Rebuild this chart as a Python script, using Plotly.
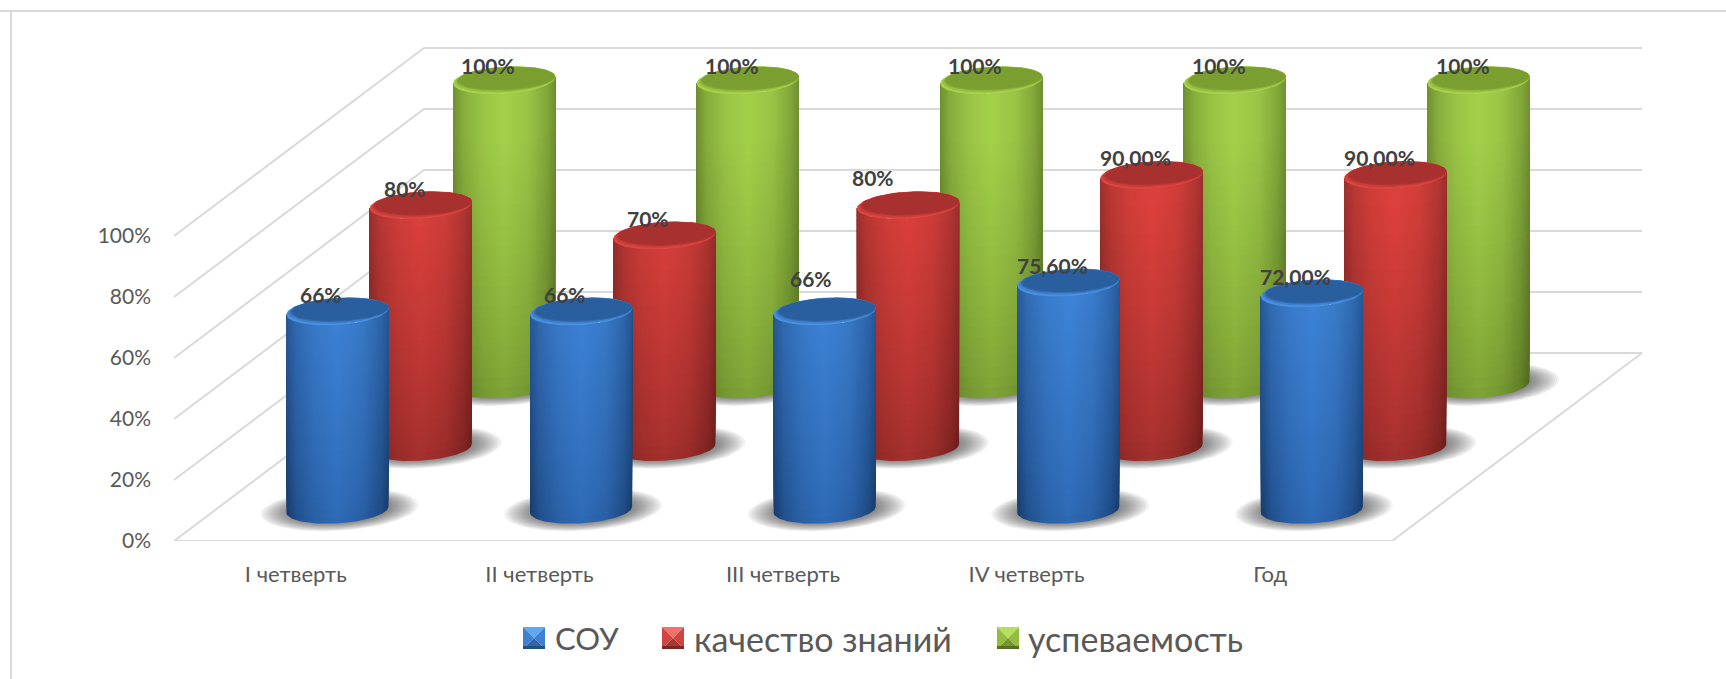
import numpy as np
import plotly.graph_objects as go

# ---------- data ----------
categories = ["I четверть", "II четверть", "III четверть", "IV четверть", "Год"]
series_names = ["СОУ", "качество знаний", "успеваемость"]
sou = [66, 66, 66, 75.6, 72]
quality = [80, 70, 80, 90, 90]
progress = [100, 100, 100, 100, 100]
sou_labels = ["66%", "66%", "66%", "75,60%", "72,00%"]
quality_labels = ["80%", "70%", "80%", "90,00%", "90,00%"]
progress_labels = ["100%", "100%", "100%", "100%", "100%"]
y_ticks = [0, 20, 40, 60, 80, 100]
y_tick_text = ["0%", "20%", "40%", "60%", "80%", "100%"]

# ---------- layout constants ----------
W, H = 1726, 679
PL, PB = 158, 138
PX_X, PX_Y = 243.6, 3.05        # px per category, px per percent
X0_PX, Y0_PX = 174, 541
DX, DY = 250 / PX_X, 188 / PX_Y # depth vector in axis units
SHEAR = 0.6
R_X, R_D = 49.8 / PX_X, 0.0745  # cylinder radii
T0 = np.arctan2(R_D * DX * SHEAR * PX_X, R_X * PX_X)
FONT = "Lato, 'Noto Sans', sans-serif"
GRID = "#D9D9D9"
TEXT = "#595959"
LABEL = "#404040"

PAL = [
    dict(tb="#3F86DA", te="#2A5D9E", bb="#2E69B5", be="#173B6B", rim="#4A90E2", cap="#2A5F9F", sw=("#5FA8F2", "#3F80CF", "#2F66A8", "#24507F")),
    dict(tb="#DD403C", te="#9C302D", bb="#A3302D", be="#6C1D1B", rim="#DC4640", cap="#A8302E", sw=("#F2726C", "#CF4540", "#A83532", "#7C2623")),
    dict(tb="#A3D04A", te="#6F9030", bb="#7FA336", be="#4E691F", rim="#A6D24C", cap="#7B9E30", sw=("#B7DE5E", "#94BC3E", "#75962F", "#556F21")),
]


def hex2rgb(c):
    return np.array([int(c[i:i + 2], 16) for i in (1, 3, 5)], float)


def mix(a, b, w):
    r = (hex2rgb(a) * (1 - w) + hex2rgb(b) * w).round().astype(int)
    return "#%02X%02X%02X" % tuple(r)


def project(x, v, d):
    return x + d * DX, v + d * DY


def ellipse(xc, v, d, k=1.0, ky=None, t=None):
    ky = k if ky is None else ky
    t = np.linspace(0, 2 * np.pi, 73) if t is None else t
    bx, by = project(xc, v, d)
    return (bx + k * R_X * np.cos(t) + ky * R_D * np.sin(t) * DX * SHEAR,
            by + ky * R_D * np.sin(t) * DY)


def bar_height(v, d):
    # the source's slight foreshortening of nearer cylinders
    return v * (1 - 0.018 * (1 - d))


fig = go.Figure()


def poly(x, y, **kw):
    fig.add_trace(go.Scatter(x=list(x), y=list(y), mode="lines", fill="toself", line=dict(width=0),
                             hoverinfo="skip", showlegend=False, cliponaxis=False, **kw))


# grid on the walls and floor
gx, gy = [], []
for v in y_ticks:
    xs, ys = project(np.array([0, 0, 5]), v, np.array([0, 1, 1]))
    gx += list(xs) + [None]
    gy += list(ys) + [None]
xs, ys = project(np.array([0, 5, 5]), 0, np.array([0, 0, 1]))
gx += list(xs)
gy += list(ys)
fig.add_trace(go.Scatter(x=gx, y=gy, mode="lines", line=dict(color=GRID, width=2),
                         hoverinfo="skip", showlegend=False, cliponaxis=False))

series = [sou, quality, progress]
depths = [1 / 6, 1 / 2, 5 / 6]

# soft contact shadows
N_SH = 14
for i in range(N_SH):
    k = 1.55 - (1.55 - 1.0) * i / (N_SH - 1)
    sx, sy = [], []
    for s in range(3):
        for c in range(5):
            ex, ey = ellipse(c + 0.5 + 2 / PX_X, 0, depths[s], k, k)
            sx += list(ex) + [None]
            sy += list(ey) + [None]
    poly(sx, sy, fillcolor="rgba(30,30,30,0.052)")

# cylinders, back to front
N_B = 30
front = np.linspace(T0, T0 - np.pi, 50)
for s in (2, 1, 0):
    p = PAL[s]
    d = depths[s]
    for c in range(5):
        xc = c + 0.5
        v = bar_height(series[s][c], d)
        for j in range(N_B):
            z = v * j / N_B
            w = min(1.0, (z / 100) ** 0.8 * 1.15)
            bright = mix(p["bb"], p["tb"], w)
            edge = mix(p["be"], p["te"], w)
            scale = [[0, edge],
                     [0.10, mix(edge, bright, 0.45)],
                     [0.28, mix(edge, bright, 0.80)],
                     [0.50, bright],
                     [0.74, mix(edge, bright, 0.80)],
                     [0.92, mix(edge, bright, 0.35)],
                     [1, edge]]
            ax, ay = ellipse(xc, z, d, t=front)
            bx, by = ellipse(xc, v, d, t=front[::-1])
            poly(np.r_[ax, bx], np.r_[ay, by], name=series_names[s],
                 fillgradient=dict(type="horizontal", colorscale=scale))
        for k, ky, off, w in [(1.0, 1.0, 0.0, 0.0), (0.985, 0.93, 0.004, 0.35),
                              (0.97, 0.86, 0.008, 0.8), (0.95, 0.80, 0.010, 1.0)]:
            ex, ey = ellipse(xc, v, d + off, k, ky)
            poly(ex, ey, fillcolor=mix(p["rim"], p["cap"], w))

# value labels (offset in px from the cylinder top; three were moved by hand in the source)
labels = [sou_labels, quality_labels, progress_labels]
offsets = {(0, 2): (-14, 33), (1, 2): (-35, 28)}
default_offset = [(-16, 17), (-16, 17), (-16, 15)]
for s in range(3):
    for c in range(5):
        tx, ty = project(c + 0.5, bar_height(series[s][c], depths[s]), depths[s])
        ox, oy = offsets.get((s, c), default_offset[s])
        fig.add_annotation(x=tx, y=ty, text=labels[s][c], showarrow=False, xshift=ox, yshift=oy,
                           font=dict(family=FONT, size=21, color=LABEL, weight="bold"))

# ---------- legend built from pyramid swatches ----------


def px(xp):
    return (xp - PL) / (W - PL)


def py(yp):
    return (Y0_PX - yp) / Y0_PX


shapes = [
    dict(type="line", xref="paper", yref="paper", x0=px(0), x1=px(W), y0=py(11), y1=py(11), line=dict(color=GRID, width=2)),
    dict(type="line", xref="paper", yref="paper", x0=px(11), x1=px(11), y0=py(11), y1=py(H), line=dict(color=GRID, width=2)),
]
swatch_x = [523, 662, 997]
text_x = [553, 692, 1026]
text_size = [31, 34, 34]
SW = 22
SY0, SY1 = 627, 649
for s, x0 in enumerate(swatch_x):
    x1, xm, ym = x0 + SW, x0 + SW / 2, (SY0 + SY1) / 2
    top, mid, low, bot = PAL[s]["sw"]
    tris = [([(x0, SY0), (x1, SY0), (xm, ym)], top),
            ([(x0, SY0), (xm, ym), (x0, SY1)], mid),
            ([(x1, SY0), (xm, ym), (x1, SY1)], mid),
            ([(x0, SY1), (x1, SY1), (xm, ym)], low),
            ([(x0, SY1 - 3), (x1, SY1 - 3), (x1, SY1), (x0, SY1)], bot)]
    for pts, col in tris:
        path = "M" + " L".join(f"{px(a):.5f},{py(b):.5f}" for a, b in pts) + " Z"
        shapes.append(dict(type="path", xref="paper", yref="paper", path=path, fillcolor=col, line=dict(width=0)))
    fig.add_annotation(xref="paper", yref="paper", x=px(text_x[s]), y=py(638), xanchor="left", yanchor="middle",
                       text=series_names[s], showarrow=False, font=dict(family=FONT, size=text_size[s], color=TEXT))

fig.update_layout(
    width=W, height=H, autosize=False, paper_bgcolor="white", plot_bgcolor="rgba(0,0,0,0)",
    margin=dict(l=PL, r=0, t=0, b=PB, autoexpand=False, pad=0), showlegend=False, shapes=shapes,
    xaxis=dict(range=[(PL - X0_PX) / PX_X, (W - X0_PX) / PX_X], tickmode="array",
               tickvals=[i + 0.5 for i in range(5)], ticktext=categories, ticks="", showgrid=False,
               zeroline=False, showline=False, ticklabelstandoff=18, tickangle=0,
               tickfont=dict(family=FONT, size=22, color=TEXT)),
    yaxis=dict(range=[0, Y0_PX / PX_Y], tickmode="array", tickvals=y_ticks, ticktext=y_tick_text, ticks="",
               showgrid=False, zeroline=False, showline=False, ticklabelstandoff=6,
               tickfont=dict(family=FONT, size=21, color=TEXT)),
)
fig.write_html("out.html", config=dict(displayModeBar=False),
               post_script="document.body.style.margin='0';document.body.style.overflow='hidden';")
